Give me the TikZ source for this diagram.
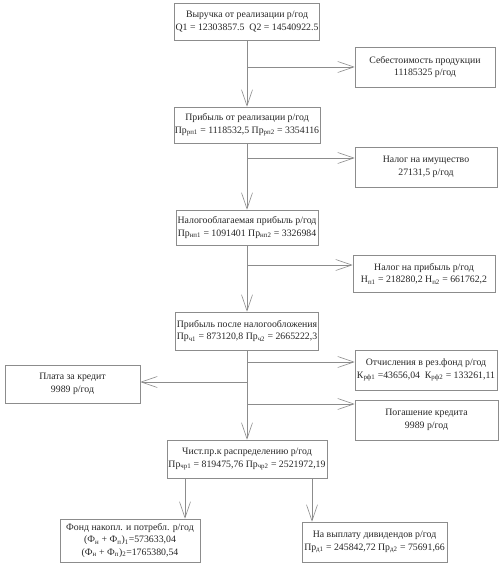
\documentclass[tikz,border=0pt]{standalone}
\usepackage{fontspec}
\setmainfont{Liberation Serif}
\usetikzlibrary{arrows.meta}
\newcommand{\sbs}[1]{\textsubscript{#1}}
\begin{document}
\begin{tikzpicture}[x=1pt,y=-1pt,
  box/.style={draw=black!45, line width=0.6pt, fill=white, text=black!85, align=center,
    inner sep=1pt, font=\fontsize{9.8}{12.5}\selectfont},
  arr/.style={draw=black!45, line width=0.6pt, -{Straight Barb[length=16pt,width=11pt,line width=0.6pt]}}]
\useasboundingbox (0,0) rectangle (499,564);
\fill[white] (0,0) rectangle (499,564);
% boxes
\node[box, minimum width=143pt, minimum height=37pt] (b1) at (247,21.5) {Выручка от реализации р/год\\Q1 = 12303857.5\ \ Q2 = 14540922.5};
\node[box, minimum width=140pt, minimum height=40pt] (b2) at (425,67) {Себестоимость продукции\\11185325 р/год};
\node[box, minimum width=140pt, minimum height=36pt] (b3) at (247,125) {Прибыль от реализации р/год\\Пр\sbs{рп1} = 1118532,5 Пр\sbs{рп2} = 3354116};
\node[box, minimum width=142pt, minimum height=40pt] (b4) at (426,167) {Налог на имущество\\27131,5 р/год};
\node[box, minimum width=142pt, minimum height=35pt] (b5) at (247,227.5) {Налогооблагаемая прибыль р/год\\Пр\sbs{нп1} = 1091401 Пр\sbs{нп2} = 3326984};
\node[box, minimum width=142pt, minimum height=37pt] (b6) at (424,273.5) {Налог на прибыль р/год\\Н\sbs{п1} = 218280,2 Н\sbs{п2} = 661762,2};
\node[box, minimum width=140pt, minimum height=38pt] (b7) at (247,331) {Прибыль после налогообложения\\Пр\sbs{ч1} = 873120,8 Пр\sbs{ч2} = 2665222,3};
\node[box, minimum width=142pt, minimum height=40pt] (b8) at (426,370) {Отчисления в рез.фонд р/год\\К\sbs{рф1} =43656,04\ \ К\sbs{рф2} = 133261,11};
\node[box, minimum width=135pt, minimum height=38pt] (b9) at (72.5,384) {Плата за кредит\\9989 р/год};
\node[box, minimum width=143pt, minimum height=40pt] (b10) at (426.5,420) {Погашение кредита\\9989 р/год};
\node[box, minimum width=160pt, minimum height=38pt] (b11) at (247,459) {Чист.пр.к распределению р/год\\Пр\sbs{чр1} = 819475,76 Пр\sbs{чр2} = 2521972,19};
\node[box, minimum width=140pt, minimum height=43pt] (b12) at (130,540.5) {Фонд накопл. и потребл. р/год\\(Ф\sbs{н} + Ф\sbs{п})\sbs{1}=573633,04\\(Ф\sbs{н} + Ф\sbs{п})\sbs{2}=1765380,54};
\node[box, minimum width=145pt, minimum height=40pt] (b13) at (374.5,542) {На выплату дивидендов р/год\\Пр\sbs{д1} = 245842,72 Пр\sbs{д2} = 75691,66};
% main line
\draw[arr] (b1) -- (b3);
\draw[arr] (b3) -- (b5);
\draw[arr] (b5) -- (b7);
\draw[arr] (b7) -- (b11);
% junctions on the main line
\coordinate (j2) at (247,67);
\coordinate (j4) at (247,158);
\coordinate (j6) at (247,265);
\coordinate (j8) at (247,362);
\coordinate (j9) at (247,382);
\coordinate (j10) at (247,404);
\draw[arr] (j2) -- (j2 -| b2.west);
\draw[arr] (j4) -- (j4 -| b4.west);
\draw[arr] (j6) -- (j6 -| b6.west);
\draw[arr] (j8) -- (j8 -| b8.west);
\draw[arr] (j9) -- (j9 -| b9.east);
\draw[arr] (j10) -- (j10 -| b10.west);
% bottom branches
\coordinate (d1) at (185,478);
\coordinate (d2) at (312,478);
\draw[arr] (d1) -- (d1 |- b12.north);
\draw[arr] (d2) -- (d2 |- b13.north);
\end{tikzpicture}
\end{document}
